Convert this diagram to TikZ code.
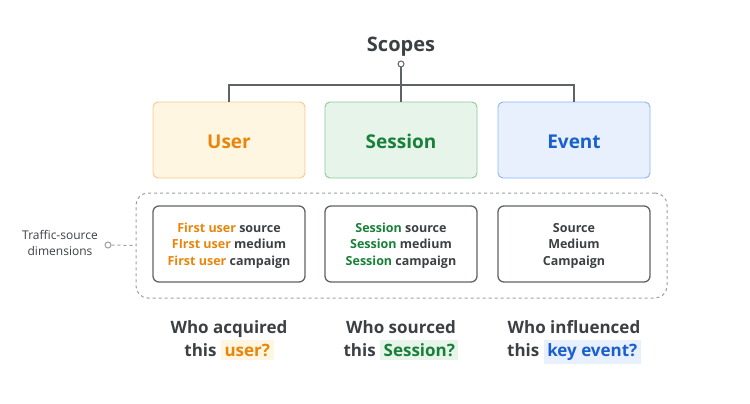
\documentclass[tikz,border=0pt]{standalone}
\usepackage{fontspec}
\setmainfont{Open Sans}
\definecolor{dark}{HTML}{3C4043}
\definecolor{line}{HTML}{5F6368}
\definecolor{dashc}{HTML}{9AA0A6}
\definecolor{uor}{HTML}{E8860B}
\definecolor{ufill}{HTML}{FEF6E0}
\definecolor{uedge}{HTML}{F8C88A}
\definecolor{sgr}{HTML}{188038}
\definecolor{sfill}{HTML}{E6F4EA}
\definecolor{sedge}{HTML}{8CC79E}
\definecolor{ebl}{HTML}{1A5FD0}
\definecolor{efill}{HTML}{E8F0FE}
\definecolor{eedge}{HTML}{8AB4F8}
\tikzset{
  scopebox/.style={draw, rounded corners=5pt, minimum width=152pt, minimum height=76pt, line width=0.9pt, inner sep=0pt},
  scopetext/.style={font=\fontsize{19}{20}\selectfont\bfseries, inner sep=0pt},
  dimbox/.style={draw=line, rounded corners=6pt, minimum width=152pt, minimum height=76pt, line width=1.3pt, inner sep=0pt},
  dimtext/.style={align=center, font=\fontsize{12.5}{16.5}\selectfont\bfseries, text=dark, inner sep=0pt},
  question/.style={align=center, font=\fontsize{17}{23}\selectfont\bfseries, text=dark, inner sep=0pt, anchor=north},
  conn/.style={draw=line, line width=1.3pt},
  dotc/.style={circle, draw=line, fill=white, line width=1pt, minimum size=6pt, inner sep=0pt},
}
\setlength{\fboxsep}{3.5pt}
\begin{document}
\begin{tikzpicture}[x=1pt,y=-1pt]
\useasboundingbox (0,0) rectangle (750,404);
\node[text=dark, font=\fontsize{20}{22}\selectfont\bfseries] (scopes) at (401,46.5) {Scopes};
\node[scopebox, fill=ufill, draw=uedge] (user) at (229,140) {};
\node[scopebox, fill=sfill, draw=sedge] (session) at (401,140) {};
\node[scopebox, fill=efill, draw=eedge] (event) at (574,140) {};
\node[scopetext, text=uor] (usert) at (229,141.5) {User};
\node[scopetext, text=sgr] (sessiont) at (401,141.5) {Session};
\node[scopetext, text=ebl] (eventt) at (574,141.5) {Event};
\coordinate (bar) at (401,85);
\node[dotc] (top) at (401,64) {};
\draw[conn] (top) -- (bar);
\draw[conn] (user.north) |- (bar) -| (event.north);
\draw[conn] (bar) -- (session.north);
\node[draw=dashc, dashed, rounded corners=12pt, line width=1pt, minimum width=531pt, minimum height=105pt] (group) at (401.5,245.5) {};
\node[dimbox] (d1) at (229,244) {};
\node[dimbox] (d2) at (401,244) {};
\node[dimbox] (d3) at (574,244) {};
\node[dimtext] (t1) at (229,245.5) {\textcolor{uor}{First user} source\\\textcolor{uor}{FIrst user} medium\\\textcolor{uor}{First user} campaign};
\node[dimtext] (t2) at (401,245.5) {\textcolor{sgr}{Session} source\\\textcolor{sgr}{Session} medium\\\textcolor{sgr}{Session} campaign};
\node[dimtext] (t3) at (574,245.5) {Source\\Medium\\Campaign};
\node[align=center, text=dark, font=\fontsize{12}{16}\selectfont] (lab) at (60,243) {Traffic-source\\dimensions};
\node[circle, draw=dashc, fill=white, line width=1pt, minimum size=6pt, inner sep=0pt] (ldot) at (108,245) {};
\draw[draw=dashc, dashed, line width=1pt] (ldot) -- (group.west);
\node[question] (q1) at (229,320) {Who acquired\\this \colorbox{ufill}{\textcolor{uor}{user?}}};
\node[question] (q2) at (401,320) {Who sourced\\this \colorbox{sfill}{\textcolor{sgr}{Session?}}};
\node[question] (q3) at (574,320) {Who influenced\\this \colorbox{efill}{\textcolor{ebl}{key event?}}};
\end{tikzpicture}
\end{document}
